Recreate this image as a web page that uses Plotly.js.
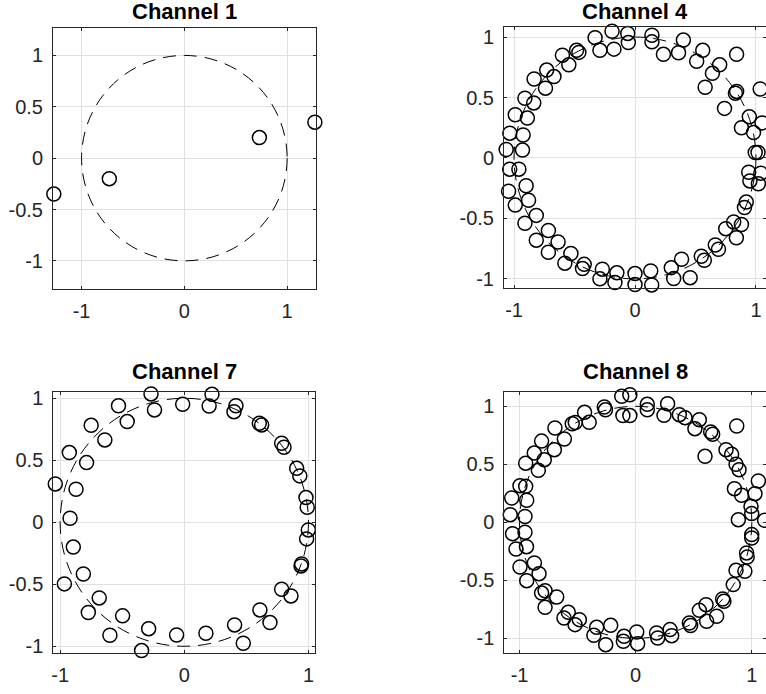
<!DOCTYPE html>
<html>
<head>
<meta charset="utf-8">
<script src="https://cdn.plot.ly/plotly-3.0.1.min.js"></script>
<style>html,body{margin:0;padding:0;background:#fff;overflow:hidden}</style>
</head>
<body>
<div id="chart" style="width:766px;height:694px"></div>
<script>
const titles = ['Channel 1', 'Channel 4', 'Channel 7', 'Channel 8'];
const xTickVals = [-1, 0, 1];
const xTickText = ['-1', '0', '1'];
const yTickVals = [-1, -0.5, 0, 0.5, 1];
const yTickText = ['-1', '-0.5', '0', '0.5', '1'];

const ch1X = [-1.27, -0.73, 0.73, 1.27];
const ch1Y = [-0.35, -0.20, 0.20, 0.35];

const ch4X = [-1.065,-0.93,-1.035,-0.925,-0.99,-0.89,-0.91,-0.837,-0.834,-0.74,-0.73,-0.67,-0.60,-0.547,-0.483,-0.464,-0.33,-0.29,-0.19,-0.174,-0.06,-0.055,
  0.14,0.14,0.29,0.235,0.36,0.40,0.51,0.56,0.70,0.64,0.58,0.84,0.84,0.83,0.74,1.035,0.945,0.88,0.98,1.05,0.994,1.017,
  -1.036,-0.96,-1.045,-0.90,-0.99,-0.88,-0.816,-0.91,-0.716,-0.816,-0.636,-0.716,-0.53,-0.58,-0.42,-0.434,-0.27,-0.29,-0.15,-0.166,0,0,
  0.13,0.138,0.30,0.32,0.385,0.456,0.548,0.573,0.664,0.69,0.75,0.816,0.838,0.88,0.92,0.905,0.94,0.95,1.02,1.04];
const ch4Y = [0.07,0.065,0.205,0.19,0.357,0.33,0.494,0.455,0.653,0.577,0.727,0.673,0.85,0.77,0.89,0.873,0.995,0.89,1.048,0.90,1.03,0.955,
  1.015,0.96,1.085,0.857,0.87,0.975,0.80,0.89,0.77,0.70,0.585,0.857,0.55,0.535,0.41,0.57,0.34,0.25,0.21,0.29,0.045,0.045,
  -0.093,-0.093,-0.275,-0.23,-0.39,-0.35,-0.475,-0.54,-0.60,-0.68,-0.695,-0.78,-0.79,-0.87,-0.88,-0.915,-0.92,-1.00,-0.95,-1.03,-0.956,-1.047,
  -0.934,-1.05,-0.907,-0.997,-0.838,-0.99,-0.813,-0.846,-0.72,-0.755,-0.585,-0.53,-0.66,-0.55,-0.365,-0.41,-0.118,-0.19,-0.214,-0.126];

const ch7X = [-0.268,-0.013,0.223,-0.53,-0.24,-0.013,0.20,0.416,0.40,-0.75,-0.46,-0.64,0.604,0.623,0.784,0.803,-0.926,-0.787,0.905,0.93,
  -1.039,-0.872,0.98,0.99,-0.92,0.999,0.985,-0.894,0.945,0.94,-0.813,-0.966,0.784,0.859,-0.685,-0.773,0.609,0.69,-0.497,-0.599,
  -0.287,-0.344,-0.062,0.174,0.405,0.475];
const ch7Y = [1.035,1.054,1.032,0.94,0.906,0.952,0.938,0.94,0.892,0.782,0.812,0.664,0.798,0.785,0.637,0.605,0.562,0.481,0.435,0.374,
  0.309,0.266,0.199,0.121,0.032,-0.062,-0.134,-0.20,-0.336,-0.352,-0.417,-0.497,-0.54,-0.594,-0.61,-0.728,-0.707,-0.809,-0.755,-0.911,
  -0.858,-1.035,-0.909,-0.895,-0.828,-0.976];

const ch8X = [-1.08,-0.953,-1.067,-0.938,-0.996,-0.947,-0.947,-0.838,-0.873,-0.787,-0.81,-0.70,-0.695,-0.614,-0.546,-0.52,-0.44,-0.40,-0.27,-0.26,-0.12,-0.05,-0.11,-0.05,
  0.10,0.10,0.275,0.244,0.376,0.425,0.548,0.51,0.646,0.663,0.87,0.597,0.778,0.826,0.864,0.89,0.85,0.912,1.027,1.056,0.993,0.999,0.884,1.11,
  -1.06,-0.953,-1.03,-0.94,-0.996,-0.872,-0.938,-0.832,-0.81,-0.78,-0.68,-0.78,-0.58,-0.617,-0.485,-0.522,-0.336,-0.36,-0.215,-0.258,-0.10,-0.106,
  0.009,0.017,0.18,0.19,0.296,0.31,0.462,0.473,0.548,0.606,0.611,0.697,0.749,0.76,0.84,0.864,0.94,0.955,0.96,0.999,0.999];
const ch8Y = [0.066,0.05,0.21,0.19,0.316,0.31,0.51,0.448,0.597,0.54,0.70,0.626,0.813,0.718,0.85,0.86,0.948,0.862,0.994,0.97,1.086,1.10,0.92,0.92,
  1.017,0.97,1.023,0.922,0.928,0.902,0.885,0.807,0.779,0.759,0.83,0.569,0.626,0.586,0.50,0.454,0.29,0.233,0.247,0.356,0.138,0.075,0.023,0.017,
  -0.098,-0.086,-0.23,-0.21,-0.385,-0.35,-0.503,-0.443,-0.61,-0.59,-0.644,-0.733,-0.776,-0.825,-0.839,-0.882,-0.905,-0.974,-0.888,-1.055,-0.983,-1.026,
  -0.945,-1.046,-0.954,-0.997,-0.925,-0.977,-0.868,-0.89,-0.759,-0.71,-0.853,-0.81,-0.661,-0.681,-0.537,-0.414,-0.422,-0.264,-0.30,-0.106,-0.135];

const W = 766, H = 694;
// pixel boxes [left, right, top, bottom]
const boxes = [
  [53, 315.7, 28, 288.7],
  [504, 766, 27, 287.7],
  [53.3, 315.3, 391.7, 652.7],
  [504.3, 766, 391.7, 652.7]
];
// pixel y of the bottom edge of each title box
const titleBottoms = [25.4, 25.4, 384.7, 384.7];
const xRanges = [[-1.278, 1.278], [-1.083, 1.083], [-1.055, 1.055], [-1.131, 1.122]];
const yRanges = [[-1.271, 1.267], [-1.073, 1.083], [-1.052, 1.053], [-1.124, 1.126]];

const series = [[ch1X, ch1Y], [ch4X, ch4Y], [ch7X, ch7Y], [ch8X, ch8Y]];
const font = 'Liberation Sans, Arial, Helvetica, sans-serif';
const ink = '#262626';

const data = [];
const layout = {
  width: W, height: H, autosize: false,
  margin: {l: 0, r: 0, t: 0, b: 0, pad: 0},
  paper_bgcolor: '#fff', plot_bgcolor: '#fff',
  showlegend: false,
  font: {family: font, size: 20, color: ink},
  shapes: [], annotations: []
};

series.forEach((s, i) => {
  const n = i === 0 ? '' : String(i + 1);
  data.push({
    type: 'scatter', mode: 'markers',
    x: s[0], y: s[1],
    xaxis: 'x' + n, yaxis: 'y' + n,
    cliponaxis: false,
    marker: {symbol: 'circle-open', size: 14, color: '#000', line: {width: 1.5, color: '#000'}},
    hoverinfo: 'skip'
  });
  const b = boxes[i];
  const common = {
    showline: true, mirror: 'ticks', linecolor: ink, linewidth: 1,
    ticks: 'inside', ticklen: 3, tickwidth: 1, tickcolor: ink,
    showgrid: true, gridcolor: '#e0e0e0', gridwidth: 1,
    zeroline: false, tickmode: 'array', fixedrange: true,
    tickfont: {family: font, size: 20, color: ink}
  };
  layout['xaxis' + n] = Object.assign({}, common, {
    domain: [b[0] / W, Math.min(1, b[1] / W)],
    range: xRanges[i], anchor: 'y' + n,
    tickvals: xTickVals, ticktext: xTickText,
    ticklabelstandoff: 4
  });
  layout['yaxis' + n] = Object.assign({}, common, {
    domain: [1 - b[3] / H, 1 - b[2] / H],
    range: yRanges[i], anchor: 'x' + n,
    tickvals: yTickVals, ticktext: yTickText,
    ticklabelstandoff: 5
  });
  layout.shapes.push({
    type: 'circle', xref: 'x' + n, yref: 'y' + n,
    x0: -1, x1: 1, y0: -1, y1: 1,
    line: {color: '#000', width: 1, dash: '13px,8px'},
    layer: 'above'
  });
  layout.annotations.push({
    text: '<b>' + titles[i] + '</b>',
    xref: 'paper', yref: 'paper',
    x: (b[0] + Math.min(W, b[1])) / 2 / W,
    y: 1 - titleBottoms[i] / H,
    xanchor: 'center', yanchor: 'bottom',
    borderpad: 0,
    showarrow: false,
    font: {family: font, size: 22, color: '#000'}
  });
});

Plotly.newPlot('chart', data, layout, {displayModeBar: false, staticPlot: true});
</script>
</body>
</html>
